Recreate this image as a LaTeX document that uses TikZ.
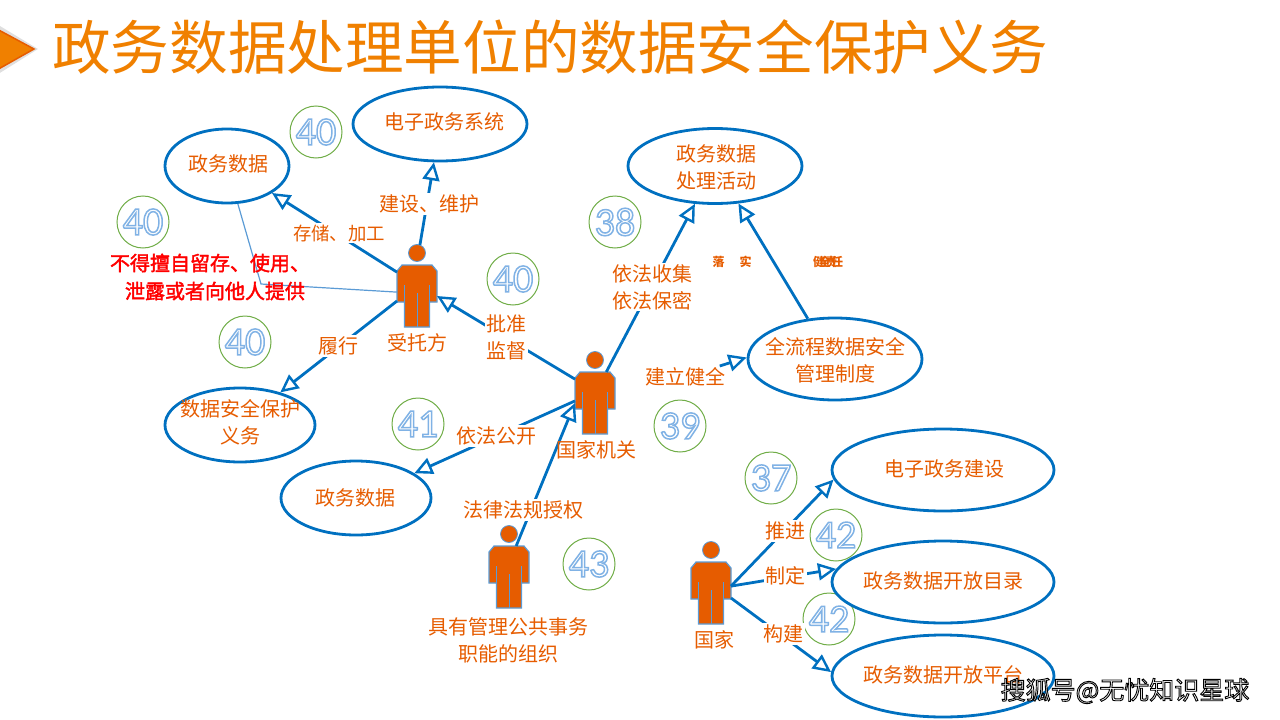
\documentclass[tikz,border=0pt]{standalone}
\usepackage{fontspec}
\usetikzlibrary{shapes.geometric,arrows.meta}
\setmainfont{Noto Sans CJK SC}
\newfontfamily\numfont{Carlito}
\definecolor{tcol}{HTML}{F08000}
\definecolor{lcol}{HTML}{E65C00}
\definecolor{blue1}{HTML}{0070C0}
\definecolor{blue2}{HTML}{5B9BD5}
\definecolor{green1}{HTML}{70AD47}
\newcommand{\outl}[1]{\special{pdf:code q 2 Tr 1.5 w 0.5 0.7 0.9 RG 1 1 1 rg}#1\special{pdf:code Q}}
\newcommand{\outk}[1]{\special{pdf:code q 2 Tr 0.9 w 0 0 0 RG 1 1 1 rg}#1\special{pdf:code Q}}
\newcommand{\outr}[1]{\special{pdf:code q 2 Tr 0.4 w 1 0 0 RG 1 0 0 rg}#1\special{pdf:code Q}}
\tikzset{
  x=1pt,y=-1pt,
  oval/.style={ellipse,draw=blue1,line width=2.8pt,fill=white,inner sep=0pt,minimum width=#1},
  lab/.style={text=lcol,font=\fontsize{20}{27}\selectfont,align=center,inner sep=1.5pt},
  wlab/.style={lab,fill=white},
  redlab/.style={text=red,font=\fontsize{20}{28}\selectfont,align=center,inner sep=0pt},
  cnum/.style={circle,draw=green1,line width=1pt,fill=white,minimum size=52pt,inner sep=0pt,font=\fontsize{40}{40}\selectfont\numfont},
  arr/.style={draw=blue1,line width=2.8pt,-{Triangle[open,fill=white,length=18pt,width=17pt,line width=2.4pt]}},
  pbox/.style={minimum width=40pt,minimum height=62pt,inner sep=0pt,outer sep=0pt},
  phead/.style={circle,fill=lcol,draw=blue2,line width=.8pt,minimum size=17pt,inner sep=0pt,outer sep=0pt},
  pics/person/.style={code={
    \node[pbox] (-box) at (0,0) {};
    \node[phead] (-head) at (0,-43) {};
    \fill[lcol,draw=blue2,line width=1.2pt] (-20,-25) -- (-15,-31) -- (15,-31) -- (20,-25) -- (20,6) -- (12.5,6) -- (12.5,31) -- (-12.5,31) -- (-12.5,6) -- (-20,6) -- cycle;
    \draw[blue2,line width=1pt] (-12.5,-11) -- (-12.5,6) (12.5,-11) -- (12.5,6) (0,-3) -- (0,31);
  }}
}
\begin{document}
\begin{tikzpicture}
\useasboundingbox (0,0) rectangle (1280,720);
% title
\fill[gray!25] (-5,23) -- (38,49) -- (-5,76) -- cycle;
\fill[tcol,draw=lcol,line width=1.5pt] (-5,28) -- (34,49) -- (-5,71) -- cycle;
\node[text=tcol,font=\fontsize{58.6}{60}\selectfont,inner sep=0pt,anchor=west] (title) at (52,47) {政务数据处理单位的数据安全保护义务};
% number circles
\node[cnum] (n1) at (316,132) {\outl{40}};
\node[cnum] (n2) at (143,222) {\outl{40}};
\node[cnum] (n3) at (245,342) {\outl{40}};
\node[cnum] (n4) at (513,279) {\outl{40}};
\node[cnum] (n5) at (418,424) {\outl{41}};
\node[cnum] (n6) at (615,222) {\outl{38}};
\node[cnum] (n7) at (680,426) {\outl{39}};
\node[cnum] (n8) at (771,478) {\outl{37}};
\node[cnum] (n9) at (836,535) {\outl{42}};
\node[cnum] (n10) at (829,619) {\outl{42}};
\node[cnum] (n11) at (589,564) {\outl{43}};
% ovals
\node[oval=174pt,minimum height=74pt] (e1) at (440,124) {};
\node[oval=124pt,minimum height=74pt] (e2) at (227,166) {};
\node[oval=150pt,minimum height=74pt] (e3) at (240,425) {};
\node[oval=150pt,minimum height=74pt] (e4) at (356,498) {};
\node[oval=174pt,minimum height=75pt] (e5) at (715,166) {};
\node[oval=174pt,minimum height=82pt] (e6) at (835,359) {};
\node[oval=222pt,minimum height=82pt] (e7) at (943,470) {};
\node[oval=222pt,minimum height=82pt] (e8) at (943,582) {};
\node[oval=222pt,minimum height=82pt] (e9) at (943,676) {};
% persons
\pic (p1) at (417,296) {person};
\pic (p2) at (595,403) {person};
\pic (p3) at (509,577) {person};
\pic (p4) at (711,593) {person};
% thin line
\coordinate (bend) at (261,284);
\draw[blue2,line width=1.2pt] (e2.286.6) -- (bend) -- (p1-box.169);
% connectors
\draw[arr] (p1-head.70) -- (e1.261);
\draw[arr] (p1-box.130) -- (e2.329);
\draw[arr] (p1-box.194) -- (e3.39);
\draw[arr] (p2-box.130) -- (p1-box.east);
\draw[arr] (p2-box.70.5) -- (e5.242);
\draw[arr] (e6.124.7) -- (e5.302);
\draw[arr] (p2-box.174) -- (e4.23.3);
\draw[arr] (p3-box.77) -- (p2-box.west);
\draw[arr] (p4-box.19) -- (e7.185.7);
\draw[arr] (p4-box.19) -- (e8.173.5);
\draw[arr] (p4-box.346) -- (e9.178);
% oval texts
\node[lab] (t1) at (444,122) {电子政务系统};
\node[lab] (t2) at (228,164) {政务数据};
\node[lab] (t3) at (240,422) {数据安全保护\\义务};
\node[lab] (t4) at (355,498) {政务数据};
\node[lab] (t5) at (716,167) {政务数据\\处理活动};
\node[lab] (t6) at (835,360) {全流程数据安全\\管理制度};
\node[lab] (t7) at (944,469) {电子政务建设};
\node[lab] (t8) at (943,581) {政务数据开放目录};
\node[lab] (t9) at (943,675) {政务数据开放平台};
% link labels
\node[wlab] (l1) at (429,204) {建设、维护};
\node[wlab,font=\fontsize{18.4}{24}\selectfont] (l2) at (339,233) {存储、加工};
\node[wlab] (l3) at (338,346) {履行};
\node[wlab] (l4) at (506,337) {批准\\监督};
\node[wlab] (l5) at (652,287) {依法收集\\依法保密};
\node[wlab] (l6) at (496,436) {依法公开};
\node[wlab] (l7) at (523,510) {法律法规授权};
\node[wlab] (l8) at (785,531) {推进};
\node[wlab] (l9) at (785,576) {制定};
\node[wlab] (l10) at (783,634) {构建};
\node[lab] (l11) at (685,377) {建立健全};
\draw[arr] (l11) -- (e6.179);
% person captions
\node[lab] (c1) at (417,343) {受托方};
\node[lab] (c2) at (596,450) {国家机关};
\node[lab] (c3) at (508,640) {具有管理公共事务\\职能的组织};
\node[lab] (c4) at (714,640) {国家};
% red note
\node[redlab] (r1) at (210,277) {\outr{不得擅自留存、使用、}\\\hspace*{10pt}\outr{泄露或者向他人提供}};
% small texts
\node[text=lcol,font=\fontsize{12}{12}\selectfont\bfseries,inner sep=0pt] (s1) at (732,262) {落\hspace{15pt}实};
\node[text=lcol,font=\fontsize{12}{12}\selectfont\bfseries,inner sep=0pt] (s2) at (828,262) {健\hspace{-6pt}全\hspace{-6pt}责\hspace{-6pt}任};
% watermark
\node[font=\fontsize{25}{25}\selectfont,inner sep=0pt] (wm) at (1125,691) {\outk{搜狐号@无忧知识星球}};
\end{tikzpicture}
\end{document}
